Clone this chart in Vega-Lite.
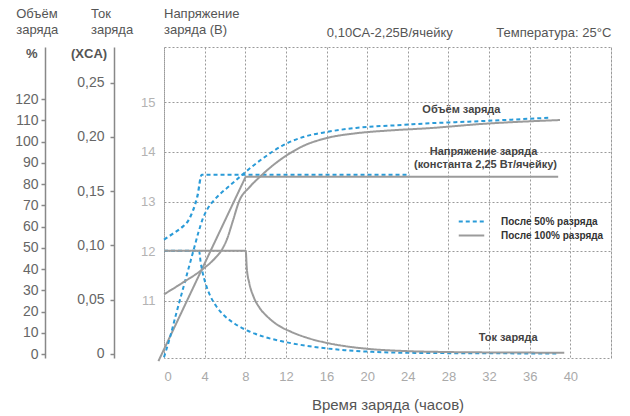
{
  "$schema": "https://vega.github.io/schema/vega-lite/v6.json",
  "width": 447,
  "height": 311,
  "autosize": {"type": "none"},
  "padding": {"left": 164, "top": 47, "right": 19, "bottom": 58},
  "background": "white",
  "config": {
    "font": "Liberation Sans",
    "view": {"stroke": "#9a9a9a", "strokeDash": [2, 2], "strokeWidth": 1},
    "axis": {"labelFont": "Liberation Sans", "titleFont": "Liberation Sans"},
    "legend": {
      "orient": "none",
      "legendX": 299,
      "legendY": 166,
      "padding": 0,
      "rowPadding": 0,
      "symbolType": "M-1.7,0H1.7",
      "symbolSize": 225,
      "symbolStrokeWidth": 2,
      "labelFont": "Liberation Sans",
      "labelFontSize": 10,
      "labelFontWeight": "bold",
      "labelColor": "#333333",
      "labelOffset": 21
    }
  },
  "datasets": {
    "voltage": [
      {"series": "После 50% разряда", "t": 0, "V": 12.235},
      {"series": "После 50% разряда", "t": 0.85, "V": 12.35},
      {"series": "После 50% разряда", "t": 1.75, "V": 12.48},
      {"series": "После 50% разряда", "t": 2.4, "V": 12.62},
      {"series": "После 50% разряда", "t": 2.85, "V": 12.82},
      {"series": "После 50% разряда", "t": 3.3, "V": 13.12},
      {"series": "После 50% разряда", "t": 3.71, "V": 13.54},
      {"series": "После 50% разряда", "t": 24.2, "V": 13.54},
      {"series": "После 100% разряда", "t": -0.55, "V": 9.79},
      {"series": "После 100% разряда", "t": 8.04, "V": 13.5},
      {"series": "После 100% разряда", "t": 38.8, "V": 13.5}
    ],
    "current": [
      {"series": "После 50% разряда", "t": 0, "C": 0.095},
      {"series": "После 50% разряда", "t": 3.45, "C": 0.095},
      {"series": "После 50% разряда", "t": 3.6, "C": 0.085},
      {"series": "После 50% разряда", "t": 3.8, "C": 0.075},
      {"series": "После 50% разряда", "t": 4.1, "C": 0.0645},
      {"series": "После 50% разряда", "t": 4.5, "C": 0.0545},
      {"series": "После 50% разряда", "t": 5.1, "C": 0.0445},
      {"series": "После 50% разряда", "t": 5.9, "C": 0.0355},
      {"series": "После 50% разряда", "t": 7.0, "C": 0.0275},
      {"series": "После 50% разряда", "t": 8.3, "C": 0.021},
      {"series": "После 50% разряда", "t": 9.8, "C": 0.0158},
      {"series": "После 50% разряда", "t": 11.5, "C": 0.0117},
      {"series": "После 50% разряда", "t": 13.4, "C": 0.0083},
      {"series": "После 50% разряда", "t": 15.5, "C": 0.0055},
      {"series": "После 50% разряда", "t": 17.8, "C": 0.0033},
      {"series": "После 50% разряда", "t": 20.5, "C": 0.0018},
      {"series": "После 50% разряда", "t": 24, "C": 0.0009},
      {"series": "После 50% разряда", "t": 30, "C": 0.0005},
      {"series": "После 50% разряда", "t": 38.8, "C": 0.0003},
      {"series": "После 100% разряда", "t": 0, "C": 0.095},
      {"series": "После 100% разряда", "t": 8.04, "C": 0.095},
      {"series": "После 100% разряда", "t": 8.15, "C": 0.079},
      {"series": "После 100% разряда", "t": 8.4, "C": 0.065},
      {"series": "После 100% разряда", "t": 8.8, "C": 0.053},
      {"series": "После 100% разряда", "t": 9.4, "C": 0.0425},
      {"series": "После 100% разряда", "t": 10.2, "C": 0.034},
      {"series": "После 100% разряда", "t": 11.2, "C": 0.0265},
      {"series": "После 100% разряда", "t": 12.5, "C": 0.0203},
      {"series": "После 100% разряда", "t": 14.0, "C": 0.015},
      {"series": "После 100% разряда", "t": 15.8, "C": 0.0105},
      {"series": "После 100% разряда", "t": 18.0, "C": 0.0068},
      {"series": "После 100% разряда", "t": 20.5, "C": 0.0042},
      {"series": "После 100% разряда", "t": 23.5, "C": 0.0026},
      {"series": "После 100% разряда", "t": 28, "C": 0.0016},
      {"series": "После 100% разряда", "t": 33, "C": 0.0012},
      {"series": "После 100% разряда", "t": 39.4, "C": 0.001}
    ],
    "volume": [
      {"series": "После 50% разряда", "t": 0, "P": -1.5},
      {"series": "После 50% разряда", "t": 0.6, "P": 8.0},
      {"series": "После 50% разряда", "t": 1.2, "P": 19.0},
      {"series": "После 50% разряда", "t": 1.8, "P": 29.5},
      {"series": "После 50% разряда", "t": 2.4, "P": 40.0},
      {"series": "После 50% разряда", "t": 3.0, "P": 50.5},
      {"series": "После 50% разряда", "t": 3.4, "P": 57.5},
      {"series": "После 50% разряда", "t": 3.8, "P": 63.5},
      {"series": "После 50% разряда", "t": 4.3, "P": 68.5},
      {"series": "После 50% разряда", "t": 4.9, "P": 72.3},
      {"series": "После 50% разряда", "t": 5.6, "P": 75.7},
      {"series": "После 50% разряда", "t": 6.4, "P": 79.0},
      {"series": "После 50% разряда", "t": 7.6, "P": 84.0},
      {"series": "После 50% разряда", "t": 8.6, "P": 88.0},
      {"series": "После 50% разряда", "t": 9.7, "P": 92.0},
      {"series": "После 50% разряда", "t": 11.7, "P": 98.3},
      {"series": "После 50% разряда", "t": 13.7, "P": 102.2},
      {"series": "После 50% разряда", "t": 16.04, "P": 104.6},
      {"series": "После 50% разряда", "t": 18.9, "P": 106.5},
      {"series": "После 50% разряда", "t": 23.5, "P": 107.9},
      {"series": "После 50% разряда", "t": 26.2, "P": 108.7},
      {"series": "После 50% разряда", "t": 29.8, "P": 109.4},
      {"series": "После 50% разряда", "t": 38.0, "P": 111.3},
      {"series": "После 100% разряда", "t": 0, "P": 28.1},
      {"series": "После 100% разряда", "t": 1.74, "P": 33.3},
      {"series": "После 100% разряда", "t": 3.71, "P": 39.6},
      {"series": "После 100% разряда", "t": 5.0, "P": 45.0},
      {"series": "После 100% разряда", "t": 5.68, "P": 49.0},
      {"series": "После 100% разряда", "t": 6.17, "P": 53.7},
      {"series": "После 100% разряда", "t": 6.8, "P": 63.0},
      {"series": "После 100% разряда", "t": 7.38, "P": 71.8},
      {"series": "После 100% разряда", "t": 8.4, "P": 78.5},
      {"series": "После 100% разряда", "t": 9.45, "P": 83.5},
      {"series": "После 100% разряда", "t": 10.5, "P": 88.0},
      {"series": "После 100% разряда", "t": 11.74, "P": 92.5},
      {"series": "После 100% разряда", "t": 13.71, "P": 98.0},
      {"series": "После 100% разряда", "t": 16.0, "P": 101.7},
      {"series": "После 100% разряда", "t": 18.97, "P": 104.0},
      {"series": "После 100% разряда", "t": 22.24, "P": 105.3},
      {"series": "После 100% разряда", "t": 26.2, "P": 106.4},
      {"series": "После 100% разряда", "t": 31.1, "P": 108.3},
      {"series": "После 100% разряда", "t": 38.98, "P": 110.2}
    ],
    "notes": [
      {"kind": "hdr", "t": -14.55, "V": 16.777, "txt": "Объём"},
      {"kind": "hdr", "t": -14.55, "V": 16.455, "txt": "заряда"},
      {"kind": "hdr", "t": -7.18, "V": 16.777, "txt": "Ток"},
      {"kind": "hdr", "t": -7.18, "V": 16.455, "txt": "заряда"},
      {"kind": "hdr", "t": 0, "V": 16.777, "txt": "Напряжение"},
      {"kind": "hdr", "t": 0, "V": 16.455, "txt": "заряда (В)"},
      {"kind": "hdr", "t": 16.03, "V": 16.394, "txt": "0,10CA-2,25В/ячейку"},
      {"kind": "hdr", "t": 32.71, "V": 16.394, "txt": "Температура: 25°C"},
      {"kind": "unit", "t": -12.44, "V": 15.972, "txt": "%"},
      {"kind": "unit", "t": -5.6, "V": 15.972, "txt": "(XCA)"},
      {"kind": "note", "t": 29.27, "V": 14.845, "txt": "Объём заряда"},
      {"kind": "note", "t": 31.45, "V": 14.006, "txt": "Напряжение заряда"},
      {"kind": "note", "t": 31.65, "V": 13.738, "txt": "(константа 2,25 Вт/ячейку)"},
      {"kind": "note", "t": 33.87, "V": 10.25, "txt": "Ток заряда"}
    ]
  },
  "encoding": {
    "x": {
      "field": "t",
      "type": "quantitative",
      "scale": {"domain": [0, 44], "nice": false, "zero": false},
      "axis": {
        "values": [0, 4, 8, 12, 16, 20, 24, 28, 32, 36, 40, 44],
        "labelExpr": "datum.value == 44 ? '' : datum.label",
        "grid": true,
        "gridColor": "#9a9a9a",
        "gridDash": [2, 2],
        "gridWidth": 1,
        "domain": false,
        "ticks": false,
        "labelColor": "#aaaaaa",
        "labelFontSize": 13,
        "labelPadding": 12,
        "title": "Время заряда (часов)",
        "titleFontSize": 15,
        "titleFontWeight": "normal",
        "titleColor": "#555555",
        "titlePadding": 14
      }
    }
  },
  "resolve": {"scale": {"y": "independent"}},
  "layer": [
    {
      "encoding": {
        "y": {
          "field": "V",
          "type": "quantitative",
          "scale": {"domain": [9.853, 16.11], "nice": false, "zero": false},
          "axis": {
            "orient": "left",
            "values": [11, 12, 13, 14, 15],
            "grid": true,
            "gridColor": "#9a9a9a",
            "gridDash": [2, 2],
            "gridWidth": 1,
            "domain": false,
            "ticks": false,
            "labelColor": "#b3b3b3",
            "labelFontSize": 13,
            "labelPadding": 9,
            "title": null
          }
        }
      },
      "layer": [
        {
          "data": {"name": "voltage"},
          "transform": [{"filter": "datum.series == 'После 50% разряда'"}],
          "mark": {"type": "line", "interpolate": "monotone", "strokeWidth": 2.2},
          "encoding": {
            "color": {"field": "series", "type": "nominal", "scale": {"domain": ["После 50% разряда", "После 100% разряда"], "range": ["#2a9bd8", "#9b9b9b"]}, "legend": {"title": null}},
            "strokeDash": {"field": "series", "type": "nominal", "scale": {"domain": ["После 50% разряда", "После 100% разряда"], "range": [[4, 3], [1, 0]]}, "legend": {"title": null}}
          }
        },
        {
          "data": {"name": "voltage"},
          "transform": [{"filter": "datum.series == 'После 100% разряда'"}],
          "mark": {"type": "line", "interpolate": "linear", "strokeWidth": 2},
          "encoding": {
            "color": {"field": "series", "type": "nominal", "scale": {"domain": ["После 50% разряда", "После 100% разряда"], "range": ["#2a9bd8", "#9b9b9b"]}, "legend": {"title": null}},
            "strokeDash": {"field": "series", "type": "nominal", "scale": {"domain": ["После 50% разряда", "После 100% разряда"], "range": [[4, 3], [1, 0]]}, "legend": {"title": null}}
          }
        },
        {
          "data": {"name": "notes"},
          "transform": [{"filter": "datum.kind == 'hdr'"}],
          "mark": {"type": "text", "align": "left", "baseline": "middle", "fontSize": 13, "color": "#555555", "font": "Liberation Sans"},
          "encoding": {"text": {"field": "txt", "type": "nominal"}}
        },
        {
          "data": {"name": "notes"},
          "transform": [{"filter": "datum.kind == 'unit'"}],
          "mark": {"type": "text", "align": "right", "baseline": "middle", "fontSize": 13, "fontWeight": "bold", "color": "#555555", "font": "Liberation Sans"},
          "encoding": {"text": {"field": "txt", "type": "nominal"}}
        },
        {
          "data": {"name": "notes"},
          "transform": [{"filter": "datum.kind == 'note'"}],
          "mark": {"type": "text", "align": "center", "baseline": "middle", "fontSize": 11, "fontWeight": "bold", "color": "#444444", "font": "Liberation Sans"},
          "encoding": {"text": {"field": "txt", "type": "nominal"}}
        }
      ]
    },
    {
      "data": {"name": "current"},
      "mark": {"type": "line", "interpolate": "monotone", "strokeWidth": 2},
      "encoding": {
        "y": {
          "field": "C",
          "type": "quantitative",
          "scale": {"domain": [-0.0039, 0.283], "nice": false, "zero": false},
          "axis": {
            "orient": "left",
            "offset": 50,
            "values": [0, 0.05, 0.1, 0.15, 0.2, 0.25],
            "labelExpr": "datum.value == 0 ? '0' : replace(format(datum.value, '.2f'), '.', ',')",
            "grid": false,
            "domain": true,
            "domainColor": "#888888",
            "domainWidth": 1.5,
            "ticks": true,
            "tickSize": 4,
            "tickColor": "#888888",
            "tickWidth": 1.5,
            "labelColor": "#666666",
            "labelFontSize": 14,
            "labelPadding": 6,
            "title": null
          }
        },
        "color": {"field": "series", "type": "nominal", "scale": {"domain": ["После 50% разряда", "После 100% разряда"], "range": ["#2a9bd8", "#9b9b9b"]}, "legend": {"title": null}},
        "strokeDash": {"field": "series", "type": "nominal", "scale": {"domain": ["После 50% разряда", "После 100% разряда"], "range": [[4, 3], [1, 0]]}, "legend": {"title": null}}
      }
    },
    {
      "data": {"name": "volume"},
      "mark": {"type": "line", "interpolate": "monotone", "strokeWidth": 2},
      "encoding": {
        "y": {
          "field": "P",
          "type": "quantitative",
          "scale": {"domain": [-1.88, 144.6], "nice": false, "zero": false},
          "axis": {
            "orient": "left",
            "offset": 119,
            "values": [0, 10, 20, 30, 40, 50, 60, 70, 80, 90, 100, 110, 120],
            "grid": false,
            "domain": true,
            "domainColor": "#888888",
            "domainWidth": 1.5,
            "ticks": true,
            "tickSize": 4,
            "tickColor": "#888888",
            "tickWidth": 1.5,
            "labelColor": "#666666",
            "labelFontSize": 14,
            "labelPadding": 3,
            "title": null
          }
        },
        "color": {"field": "series", "type": "nominal", "scale": {"domain": ["После 50% разряда", "После 100% разряда"], "range": ["#2a9bd8", "#9b9b9b"]}, "legend": {"title": null}},
        "strokeDash": {"field": "series", "type": "nominal", "scale": {"domain": ["После 50% разряда", "После 100% разряда"], "range": [[4, 3], [1, 0]]}, "legend": {"title": null}}
      }
    }
  ]
}
